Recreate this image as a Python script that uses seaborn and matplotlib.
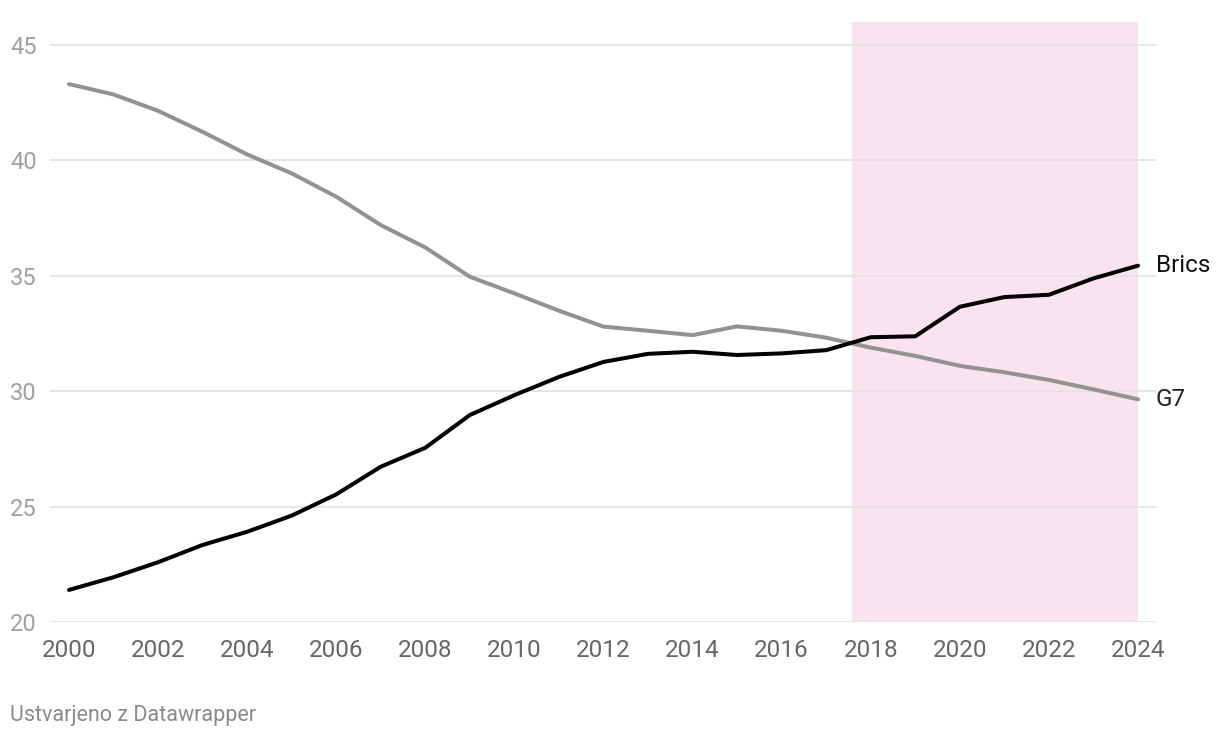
import matplotlib
matplotlib.use("Agg")
import matplotlib.pyplot as plt
import numpy as np
import pandas as pd
import seaborn as sns

years = list(range(2000, 2025))
g7 = [43.31, 42.86, 42.15, 41.24, 40.26, 39.44, 38.43, 37.2, 36.23, 34.96,
      34.24, 33.49, 32.8, 32.62, 32.43, 32.81, 32.62, 32.32, 31.89, 31.53,
      31.1, 30.82, 30.49, 30.08, 29.65]
brics = [21.39, 21.94, 22.59, 23.34, 23.91, 24.61, 25.53, 26.73, 27.55, 28.97,
         29.83, 30.62, 31.27, 31.62, 31.71, 31.57, 31.64, 31.78, 32.34, 32.38,
         33.66, 34.08, 34.18, 34.89, 35.44]
yticks = [20, 25, 30, 35, 40, 45]
xticks = list(range(2000, 2025, 2))
band = (2017.58, 2024)

df = pd.DataFrame({
    "year": years * 2,
    "value": g7 + brics,
    "group": ["G7"] * len(years) + ["Brics"] * len(years),
})

sns.set_style("white")
plt.rcParams["font.family"] = ["Roboto", "DejaVu Sans"]

fig = plt.figure(figsize=(12.2, 7.38), dpi=100)
ax = fig.add_axes([50 / 1220, 1 - 622 / 738, 1106 / 1220, 600 / 738])

ax.axvspan(band[0], band[1], color="#fae3ef", zorder=0, lw=0)
for t in yticks:
    ax.axhline(t, color="#e3e3e3", lw=1.3, zorder=1)

colors = {"G7": "#929292", "Brics": "#000000"}
sns.lineplot(data=df, x="year", y="value", hue="group", palette=colors,
             linewidth=2.9, legend=False, ax=ax, zorder=3)

ax.set_xlim(2000 - 19 / 44.54, 2024 + 18 / 44.54)
ax.set_ylim(20, 46)
ax.set_xlabel("")
ax.set_ylabel("")
for s in ax.spines.values():
    s.set_visible(False)

ax.set_xticks(xticks)
ax.set_xticklabels([str(x) for x in xticks])
ax.set_yticks(yticks)
ax.set_yticklabels([str(y) for y in yticks])
ax.tick_params(axis="x", length=0, pad=12.5, labelsize=17.5, labelcolor="#666666")
ax.tick_params(axis="y", length=0, pad=28.8, labelsize=17, labelcolor="#a0a0a0")
for lab in ax.get_yticklabels():
    lab.set_horizontalalignment("left")

ax.text(2024.4, brics[-1], "Brics", fontsize=17.5, color="#111111",
        va="center", ha="left", clip_on=False)
ax.text(2024.4, g7[-1], "G7", fontsize=17.5, color="#222222",
        va="center", ha="left", clip_on=False)

fig.text(10 / 1220, 1 - 716 / 738, "Ustvarjeno z Datawrapper", fontsize=15.5,
         color="#8a8a8a", ha="left", va="center")

fig.savefig("out.png", dpi=100, facecolor="white")
